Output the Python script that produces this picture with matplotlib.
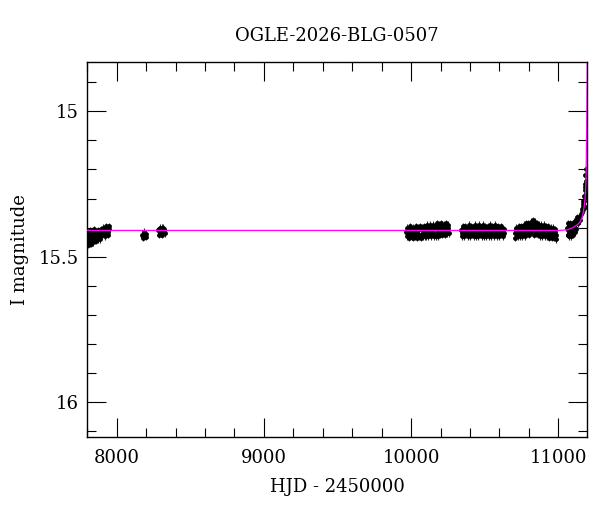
import matplotlib
matplotlib.use('Agg')
from matplotlib import pyplot as plt
from matplotlib.ticker import MultipleLocator

plt.rcParams['font.family'] = ['DejaVu Serif']

# season 2017 (HJD - 2450000)
s1_t = [7803, 7806, 7810, 7813, 7817, 7821, 7825, 7829, 7834, 7838, 7843, 7848, 7853, 7858,
        7864, 7870, 7876, 7882, 7889, 7896, 7903, 7910, 7917, 7924, 7931, 7938, 7944, 7947,
        7804, 7808, 7811, 7815, 7819, 7823, 7827, 7832, 7836, 7841, 7846, 7851, 7856, 7861,
        7867, 7873, 7879, 7886, 7893, 7900, 7907, 7914, 7921, 7928, 7935, 7941, 7946]
s1_m = [15.445, 15.42, 15.455, 15.43, 15.41, 15.445, 15.425, 15.45, 15.415, 15.44, 15.43, 15.405, 15.445, 15.42,
        15.435, 15.41, 15.43, 15.415, 15.44, 15.405, 15.425, 15.40, 15.43, 15.395, 15.42, 15.40, 15.425, 15.405,
        15.435, 15.46, 15.44, 15.455, 15.43, 15.425, 15.455, 15.435, 15.425, 15.45, 15.415, 15.44, 15.43, 15.445,
        15.415, 15.44, 15.42, 15.425, 15.43, 15.415, 15.41, 15.42, 15.41, 15.41, 15.405, 15.415, 15.395]

# 2018 fragments
s2_t = [8172, 8180, 8188, 8195, 8202, 8176, 8184, 8199]
s2_m = [15.425, 15.43, 15.42, 15.428, 15.422, 15.435, 15.415, 15.432]
s3_t = [8282, 8290, 8298, 8305, 8312, 8320, 8326, 8300, 8286, 8294, 8309, 8316, 8323]
s3_m = [15.41, 15.405, 15.42, 15.40, 15.415, 15.41, 15.42, 15.41, 15.425, 15.40, 15.425, 15.40, 15.405]

# 2023
sA_t = [9968, 9975, 9982, 9990, 9997, 10004, 10012, 10019, 10026, 10034, 10041, 10048, 10056, 10063,
        10070, 10078, 10085, 10092, 10100, 10107, 10114, 10122, 10129, 10136, 10144, 10151, 10158,
        10166, 10173, 10180, 10188, 10195, 10202, 10210, 10217, 10224, 10232, 10239, 10246, 10253,
        9971, 9979, 9986, 9993, 10001, 10008, 10015, 10023, 10030, 10037, 10045, 10052, 10059, 10067,
        10074, 10081, 10089, 10096, 10103, 10111, 10118, 10125, 10133, 10140, 10147, 10155, 10162,
        10169, 10177, 10184, 10191, 10199, 10206, 10213, 10221, 10228, 10235, 10243, 10250, 10256]
sA_m = [15.415, 15.43, 15.405, 15.425, 15.41, 15.43, 15.40, 15.42, 15.43, 15.405, 15.42, 15.41, 15.43, 15.40,
        15.425, 15.41, 15.42, 15.40, 15.43, 15.415, 15.40, 15.425, 15.41, 15.395, 15.42, 15.405, 15.425,
        15.40, 15.415, 15.395, 15.42, 15.40, 15.41, 15.39, 15.415, 15.40, 15.42, 15.395, 15.41, 15.40,
        15.40, 15.42, 15.435, 15.395, 15.42, 15.405, 15.435, 15.41, 15.395, 15.435, 15.40, 15.425, 15.395, 15.435,
        15.40, 15.43, 15.395, 15.43, 15.405, 15.39, 15.43, 15.39, 15.43, 15.41, 15.39, 15.43, 15.395,
        15.43, 15.385, 15.43, 15.39, 15.425, 15.385, 15.425, 15.39, 15.425, 15.385, 15.42, 15.39, 15.42]

# 2024
sB_t = [10341, 10348, 10356, 10364, 10372, 10380, 10388, 10396, 10404, 10412, 10420, 10428, 10436,
        10444, 10452, 10460, 10468, 10476, 10484, 10492, 10500, 10508, 10516, 10524, 10532, 10540,
        10548, 10556, 10564, 10572, 10580, 10588, 10596, 10604, 10612, 10620, 10628,
        10344, 10352, 10360, 10368, 10376, 10384, 10392, 10400, 10408, 10416, 10424, 10432, 10440,
        10448, 10456, 10464, 10472, 10480, 10488, 10496, 10504, 10512, 10520, 10528, 10536, 10544,
        10552, 10560, 10568, 10576, 10584, 10592, 10600, 10608, 10616, 10624, 10631]
sB_m = [15.41, 15.42, 15.40, 15.415, 15.425, 15.405, 15.42, 15.40, 15.415, 15.425, 15.40, 15.41, 15.42,
        15.40, 15.415, 15.405, 15.425, 15.41, 15.40, 15.42, 15.405, 15.415, 15.425, 15.40, 15.41, 15.42,
        15.405, 15.415, 15.40, 15.425, 15.41, 15.42, 15.405, 15.415, 15.425, 15.41, 15.42,
        15.43, 15.395, 15.43, 15.395, 15.405, 15.43, 15.39, 15.43, 15.395, 15.40, 15.43, 15.39, 15.43,
        15.395, 15.43, 15.39, 15.40, 15.43, 15.39, 15.43, 15.395, 15.43, 15.395, 15.43, 15.39, 15.43,
        15.395, 15.43, 15.39, 15.40, 15.43, 15.395, 15.43, 15.395, 15.40, 15.43, 15.405]

# 2025
sC_t = [10704, 10712, 10720, 10728, 10736, 10744, 10752, 10760, 10768, 10776, 10784, 10792, 10800,
        10808, 10816, 10824, 10832, 10840, 10848, 10856, 10864, 10872, 10880, 10888, 10896, 10904,
        10912, 10920, 10928, 10936, 10944, 10952, 10960, 10968, 10976, 10984,
        10708, 10716, 10724, 10732, 10740, 10748, 10756, 10764, 10772, 10780, 10788, 10796, 10804,
        10812, 10820, 10828, 10836, 10844, 10852, 10860, 10868, 10876, 10884, 10892, 10900, 10908,
        10916, 10924, 10932, 10940, 10948, 10956, 10964, 10972, 10980, 10987]
sC_m = [15.42, 15.41, 15.425, 15.405, 15.42, 15.41, 15.40, 15.42, 15.405, 15.415, 15.395, 15.41, 15.40,
        15.39, 15.415, 15.39, 15.405, 15.395, 15.42, 15.40, 15.41, 15.395, 15.42, 15.405, 15.415, 15.40,
        15.425, 15.41, 15.42, 15.405, 15.425, 15.41, 15.42, 15.43, 15.415, 15.425,
        15.435, 15.40, 15.43, 15.395, 15.43, 15.395, 15.43, 15.39, 15.43, 15.385, 15.42, 15.385, 15.425,
        15.38, 15.40, 15.375, 15.425, 15.38, 15.385, 15.425, 15.39, 15.43, 15.39, 15.43, 15.39, 15.43,
        15.395, 15.43, 15.395, 15.435, 15.40, 15.435, 15.40, 15.435, 15.405, 15.44]

# 2026, rising part
sD_t = [11062, 11065, 11068, 11072, 11076, 11080, 11085, 11090, 11095, 11100, 11105, 11110, 11115,
        11120, 11125, 11130, 11135, 11140, 11145, 11150, 11154, 11158, 11162, 11165, 11168, 11171,
        11174, 11176, 11178, 11180, 11182, 11184, 11186,
        11063, 11067, 11070, 11074, 11078, 11083, 11088, 11093, 11098, 11103, 11108, 11113, 11118,
        11123, 11128, 11179, 11183, 11185, 11188]
sD_m = [15.40, 15.425, 15.41, 15.395, 15.42, 15.405, 15.415, 15.40, 15.41, 15.395, 15.405, 15.39, 15.40,
        15.385, 15.375, 15.38, 15.385, 15.37, 15.375, 15.36, 15.355, 15.345, 15.335, 15.33, 15.32, 15.31,
        15.33, 15.29, 15.31, 15.27, 15.25, 15.22, 15.24,
        15.425, 15.385, 15.43, 15.405, 15.385, 15.43, 15.39, 15.425, 15.385, 15.425, 15.38, 15.415, 15.375,
        15.405, 15.365, 15.33, 15.26, 15.29, 15.20]

err = 0.012

# model curve
mod_t = [7790, 11000, 11060, 11100, 11130, 11150, 11165, 11175, 11182, 11187, 11190, 11193, 11196, 11199]
mod_m = [15.41, 15.41, 15.408, 15.40, 15.39, 15.38, 15.36, 15.33, 15.30, 15.25, 15.18, 15.05, 14.9, 14.75]

fig = plt.figure(figsize=(6, 5.12), dpi=100)
ax = fig.add_axes([0.1455, 0.1471, 0.8333, 0.7318])

for t, m in [(s1_t, s1_m), (s2_t, s2_m), (s3_t, s3_m), (sA_t, sA_m),
             (sB_t, sB_m), (sC_t, sC_m), (sD_t, sD_m)]:
    ax.errorbar(t, m, yerr=err, fmt='o', color='black', ms=3.5, mew=0,
                ecolor='0.15', elinewidth=0.8, capsize=1.5, capthick=0.8, zorder=2)

ax.plot(mod_t, mod_m, color='#ff00ff', lw=0.9, zorder=3)

ax.set_xlim(7800, 11197)
ax.set_ylim(16.12, 14.83)
ax.xaxis.set_major_locator(MultipleLocator(1000))
ax.xaxis.set_minor_locator(MultipleLocator(200))
ax.yaxis.set_major_locator(MultipleLocator(0.5))
ax.yaxis.set_minor_locator(MultipleLocator(0.1))
ax.yaxis.set_major_formatter(plt.FuncFormatter(lambda v, p: '%g' % v))
ax.tick_params(which='both', direction='in', top=True, right=True, width=0.8, labelsize=13)
ax.tick_params(which='major', length=13.5)
ax.tick_params(which='minor', length=6.5)
ax.tick_params(axis='x', pad=9)
ax.tick_params(axis='y', pad=6)
for s in ax.spines.values():
    s.set_linewidth(1.0)

ax.set_xlabel('HJD - 2450000', fontsize=13, labelpad=8)
ax.set_ylabel('I magnitude', fontsize=13, labelpad=7)
ax.set_title('OGLE-2026-BLG-0507', fontsize=13, pad=15)

plt.savefig('out.png', dpi=100)
